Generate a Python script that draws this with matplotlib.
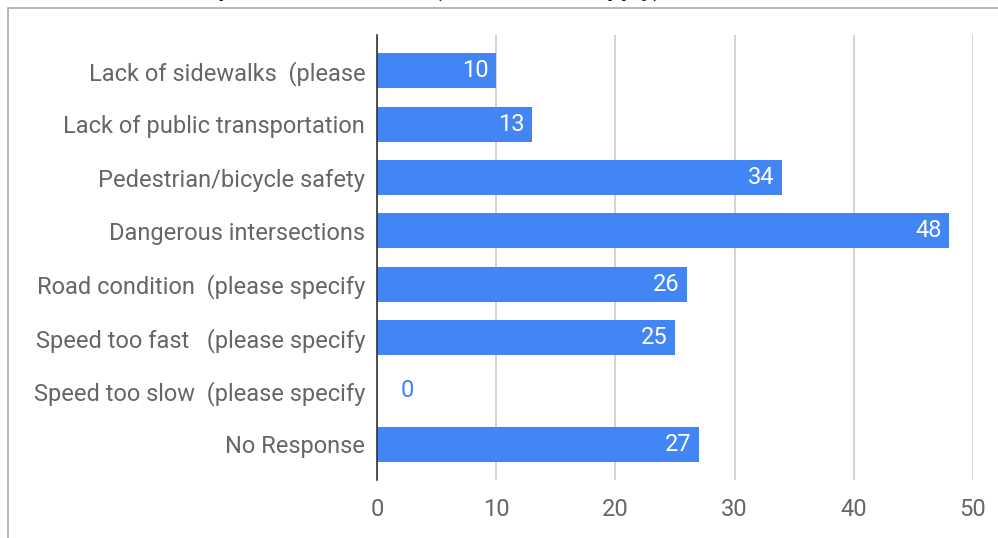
import matplotlib
matplotlib.use("Agg")
import matplotlib.pyplot as plt
from matplotlib.patches import Rectangle

categories = [
    "Lack of sidewalks  (please",
    "Lack of public transportation",
    "Pedestrian/bicycle safety",
    "Dangerous intersections",
    "Road condition  (please specify",
    "Speed too fast   (please specify",
    "Speed too slow  (please specify",
    "No Response",
]
values = [10, 13, 34, 48, 26, 25, 0, 27]
x_ticks = [0, 10, 20, 30, 40, 50]
title = "Transportation Concerns (check all that apply)"

BAR = "#4285F4"
plt.rcParams['font.family'] = ['Roboto', 'DejaVu Sans']

W, H = 998, 538
fig = plt.figure(figsize=(W / 100, H / 100), dpi=100)
ax = fig.add_axes([377 / W, 1 - 480 / H, (973 - 377) / W, (480 - 35) / H])

n = len(categories)
ypos = list(range(n))
ax.barh(ypos, values, height=0.656, color=BAR, zorder=3)
ax.set_ylim(n - 1 + 0.675, -0.675)
ax.set_xlim(0, 50)
ax.set_xticks(x_ticks)
ax.set_xticklabels([str(t) for t in x_ticks])
ax.set_yticks(ypos)
ax.set_yticklabels(categories)
ax.tick_params(axis='both', length=0, labelsize=17, labelcolor='#666666')
ax.tick_params(axis='y', pad=8.5)
ax.tick_params(axis='x', pad=13)
for s in ['top', 'right', 'bottom']:
    ax.spines[s].set_visible(False)
ax.spines['left'].set_color('#333333')
ax.spines['left'].set_linewidth(1.2)
ax.spines['left'].set_zorder(4)
ax.grid(axis='x', color='#cccccc', linewidth=1.2, zorder=0)
ax.set_axisbelow(True)

for y, v in zip(ypos, values):
    if v >= 3:
        ax.text(v - 0.65, y, str(v), ha='right', va='center', color='white',
                fontsize=17, zorder=5)
    else:
        ax.text(v + 2.0, y, str(v), ha='left', va='center', color=BAR,
                fontsize=17, zorder=5)

# outer frame
fig.patches.append(Rectangle((7.5 / W, -0.1), 1.2, 1 - 8.5 / H + 0.1,
                             transform=fig.transFigure, fill=False,
                             edgecolor='#aaaaaa', linewidth=1.2))
# title, clipped at the top edge as in the reference
fig.text(155 / W, 1 + 4.5 / H, title, ha='left', va='baseline',
         fontsize=17.5, fontweight='bold', color='#222222')

fig.savefig("out.png", dpi=100)
